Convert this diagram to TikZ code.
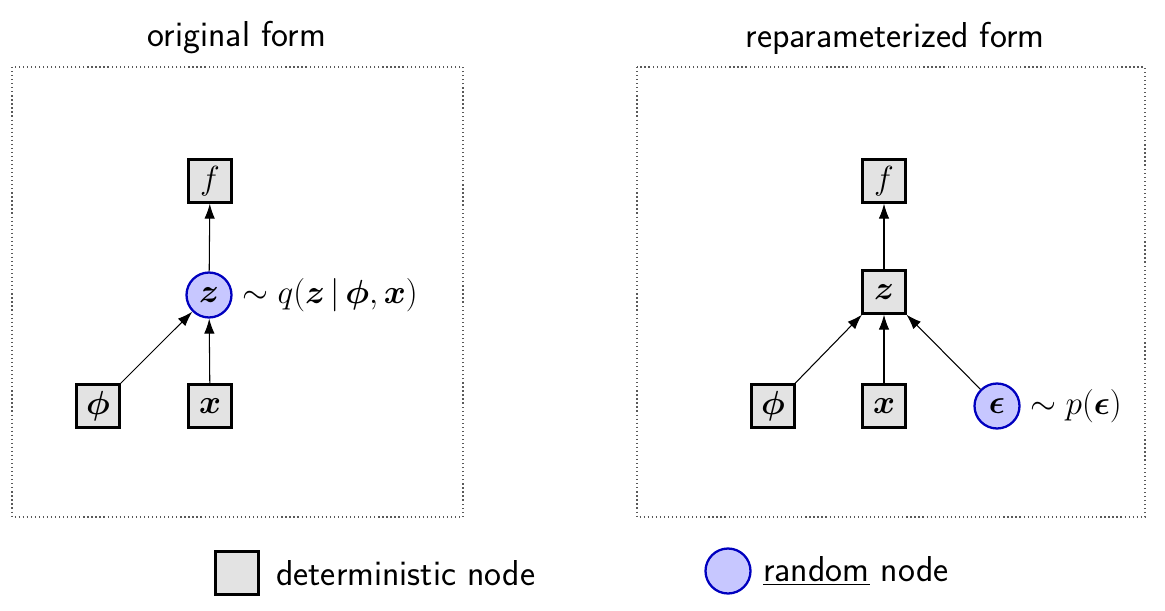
\RequirePackage{fix-cm}
\documentclass[tikz,border=0pt]{standalone}
\usepackage{bm}
\usetikzlibrary{arrows.meta}
\renewcommand{\familydefault}{\sfdefault}
\begin{document}
\begin{tikzpicture}[x=0.02cm,y=-0.02cm,
  detnode/.style={draw,line width=1.3pt,rectangle,fill=gray!22,minimum width=0.86cm,minimum height=0.86cm,inner sep=0pt,font=\fontsize{19}{23}\selectfont},
  rndnode/.style={draw=blue!75!black,line width=1.3pt,circle,fill=blue!22,minimum size=0.9cm,inner sep=0pt,font=\fontsize{19}{23}\selectfont},
  panel/.style={draw=gray!70!black,line width=0.7pt,dash pattern=on 0.7pt off 1.6pt},
  lbl/.style={font=\fontsize{20.5}{24}\selectfont},
  mlbl/.style={font=\fontsize{19}{23}\selectfont},
  >={Latex[length=3mm,width=2.1mm]}]
\useasboundingbox (0,0) rectangle (1165,611);
% panels
\draw[panel] (12,67) rectangle (463,517);
\draw[panel] (637,67) rectangle (1145,517);
\node[lbl] (t1) at (237,38) {original form};
\node[lbl] (t2) at (895,38) {reparameterized form};
% original form
\node[detnode] (f1) at (210,181) {$f$};
\node[rndnode] (z1) at (209,295) {$\bm{z}$};
\node[detnode] (phi1) at (98,406) {$\bm{\phi}$};
\node[detnode] (x1) at (210,406) {$\bm{x}$};
\node[mlbl,anchor=west] (q1) at ([xshift=2pt]z1.east) {$\sim q(\bm{z}\,|\,\bm{\phi},\bm{x})$};
\draw[->,line width=0.6pt] (z1) -- (f1);
\draw[->,line width=0.6pt] (phi1) -- (z1);
\draw[->,line width=0.6pt] (x1) -- (z1);
% reparameterized form
\node[detnode] (f2) at (884,181) {$f$};
\node[detnode] (z2) at (884,292) {$\bm{z}$};
\node[detnode] (phi2) at (773,406) {$\bm{\phi}$};
\node[detnode] (x2) at (884,406) {$\bm{x}$};
\node[rndnode] (eps2) at (997,406) {$\bm{\epsilon}$};
\node[mlbl,anchor=west] (p2) at ([xshift=2pt]eps2.east) {$\sim p(\bm{\epsilon})$};
\draw[->,line width=0.6pt] (z2) -- (f2);
\draw[->,line width=0.6pt] (phi2) -- (z2);
\draw[->,line width=0.6pt] (x2) -- (z2);
\draw[->,line width=0.6pt] (eps2) -- (z2);
% legend
\node[detnode] (kdet) at (237,573) {};
\node[lbl,anchor=west] (kdett) at (270,573) {deterministic node};
\node[rndnode] (krnd) at (728,571) {};
\node[lbl,anchor=west] (krndt) at (757,571) {\underline{random} node};
\end{tikzpicture}
\end{document}
